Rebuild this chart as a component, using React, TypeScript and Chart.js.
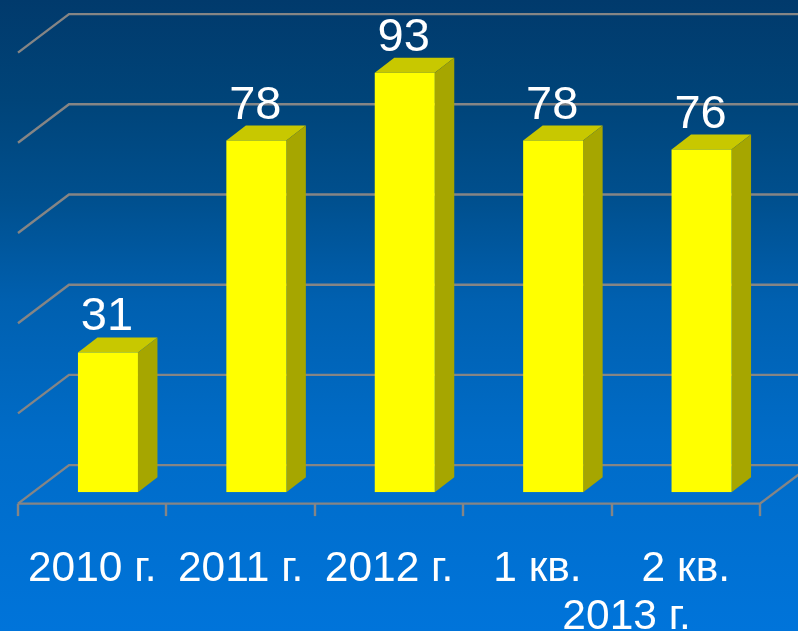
import React, { useEffect, useRef } from "react";
import { Chart, registerables } from "chart.js";

Chart.register(...registerables);

const categories = ["2010 г.", "2011 г.", "2012 г.", "1 кв.", "2 кв."];
const values = [31, 78, 93, 78, 76];
const groupLabel = "2013 г.";
const groupedFrom = 3;
const groupedTo = 4;
const yMin = 0;
const yMax = 100;
const yStep = 20;

const FONT = '"Liberation Sans", Arial, sans-serif';
const GRID = "#858585";
const BAR_SHIFT = 15.75;
const BAR_DX = 19.5;
const BAR_DY = 15;
const WALL_DX = 51;
const WALL_DY = 38.5;
const WALL_RISE = 27.2;

const scene = {
  id: "scene",
  beforeDraw(chart: any) {
    const { ctx, width, height } = chart;
    const g = ctx.createLinearGradient(0, 0, 0, height);
    g.addColorStop(0, "#013a6c");
    g.addColorStop(0.16, "#004479");
    g.addColorStop(0.32, "#00508f");
    g.addColorStop(0.48, "#0060b0");
    g.addColorStop(0.7, "#006cc8");
    g.addColorStop(1, "#0074da");
    ctx.save();
    ctx.fillStyle = g;
    ctx.fillRect(0, 0, width, height);
    ctx.restore();
  },
  beforeDatasetsDraw(chart: any) {
    const { ctx, width, chartArea, scales } = chart;
    const { left, right } = chartArea;
    ctx.save();
    ctx.strokeStyle = GRID;
    ctx.lineWidth = 2.4;
    ctx.lineJoin = "miter";
    for (const t of scales.y.ticks) {
      const backY = scales.y.getPixelForValue(t.value) - WALL_RISE;
      ctx.beginPath();
      ctx.moveTo(left, backY + WALL_DY);
      ctx.lineTo(left + WALL_DX, backY);
      ctx.lineTo(width, backY);
      ctx.stroke();
    }
    const floorBack = scales.y.getPixelForValue(yMin) - WALL_RISE;
    const floorFront = floorBack + WALL_DY;
    ctx.beginPath();
    ctx.moveTo(left, floorFront);
    ctx.lineTo(right, floorFront);
    ctx.lineTo(right + WALL_DX, floorBack);
    ctx.stroke();
    const n = scales.x.ticks.length;
    const step = (right - left) / n;
    for (let i = 0; i <= n; i++) {
      const x = Math.round(left + i * step);
      ctx.beginPath();
      ctx.moveTo(x, floorFront);
      ctx.lineTo(x, floorFront + 12.5);
      ctx.stroke();
    }
    ctx.restore();
  },
  beforeDatasetDraw(chart: any, args: any) {
    const { ctx } = chart;
    const meta = chart.getDatasetMeta(args.index);
    ctx.save();
    ctx.translate(BAR_SHIFT, 0);
    for (const bar of meta.data) {
      const l = bar.x - bar.width / 2;
      const r = bar.x + bar.width / 2;
      ctx.fillStyle = "#c8c800";
      ctx.beginPath();
      ctx.moveTo(l, bar.y);
      ctx.lineTo(l + BAR_DX, bar.y - BAR_DY);
      ctx.lineTo(r + BAR_DX, bar.y - BAR_DY);
      ctx.lineTo(r, bar.y);
      ctx.closePath();
      ctx.fill();
      ctx.fillStyle = "#a6a600";
      ctx.beginPath();
      ctx.moveTo(r, bar.y);
      ctx.lineTo(r + BAR_DX, bar.y - BAR_DY);
      ctx.lineTo(r + BAR_DX, bar.base - BAR_DY);
      ctx.lineTo(r, bar.base);
      ctx.closePath();
      ctx.fill();
    }
  },
  afterDatasetDraw(chart: any, args: any) {
    const { ctx, scales } = chart;
    const meta = chart.getDatasetMeta(args.index);
    ctx.fillStyle = "#ffffff";
    ctx.font = `47px ${FONT}`;
    ctx.textAlign = "center";
    ctx.textBaseline = "alphabetic";
    meta.data.forEach((bar: any, i: number) => {
      ctx.fillText(String(values[i]), bar.x - 1, bar.y - 22);
    });
    ctx.restore();
    const mid = (scales.x.getPixelForValue(groupedFrom) + scales.x.getPixelForValue(groupedTo)) / 2;
    ctx.save();
    ctx.fillStyle = "#ffffff";
    ctx.font = `42.5px ${FONT}`;
    ctx.textAlign = "center";
    ctx.textBaseline = "alphabetic";
    ctx.fillText(groupLabel, mid + 15, 628.5);
    ctx.restore();
  },
};

export default function App() {
  const ref = useRef<HTMLCanvasElement>(null);
  useEffect(() => {
    const chart = new Chart(ref.current!, {
      type: "bar",
      data: {
        labels: categories,
        datasets: [
          {
            data: values,
            backgroundColor: "#ffff00",
            borderWidth: 0,
            barPercentage: 60 / 148.4,
            categoryPercentage: 1,
          },
        ],
      },
      plugins: [scene],
      options: {
        responsive: false,
        animation: false,
        layout: { padding: { left: 18, right: 38, top: 41.3, bottom: 0 } },
        plugins: { legend: { display: false }, tooltip: { enabled: false }, title: { display: false } },
        scales: {
          x: {
            grid: { display: false, drawTicks: false },
            border: { display: false },
            ticks: {
              color: "#ffffff",
              font: { family: FONT, size: 42.5 },
              padding: 51.5,
              maxRotation: 0,
              minRotation: 0,
              autoSkip: false,
            },
            afterFit(scale: any) {
              scale.height = 631 - 492.3;
              scale.paddingLeft = 0;
              scale.paddingRight = 0;
            },
          },
          y: {
            display: false,
            min: yMin,
            max: yMax,
            ticks: { stepSize: yStep },
          },
        },
      } as any,
    });
    return () => chart.destroy();
  }, []);
  return (
    <div style={{ position: "fixed", left: 0, top: 0, width: 798, height: 631 }}>
      <canvas ref={ref} width={798} height={631} style={{ display: "block" }} />
    </div>
  );
}
